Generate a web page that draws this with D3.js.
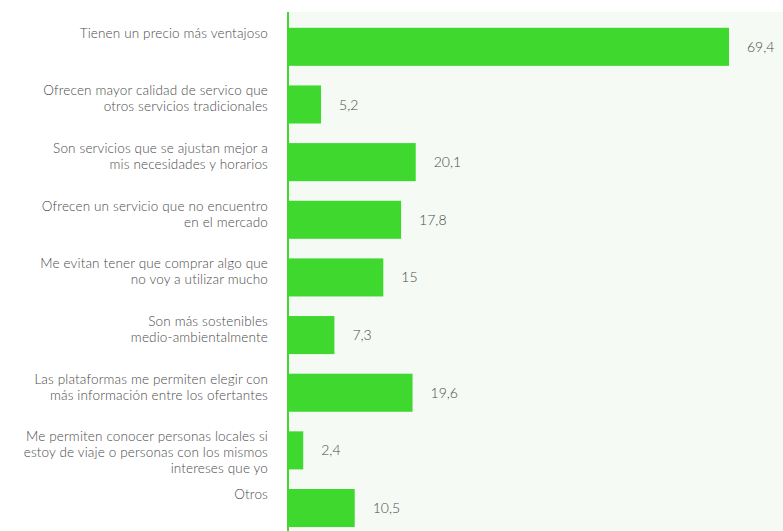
<!DOCTYPE html>
<html>
<head>
<meta charset="utf-8">
<script src="https://cdn.jsdelivr.net/npm/d3@7"></script>
<style>
  html, body { margin: 0; padding: 0; background: #ffffff; }
  svg { display: block; }
  text { font-family: Lato, "Open Sans", sans-serif; font-weight: 300; }
</style>
</head>
<body>
<script>
// ---- Data ----
const categories = [
  ["Tienen un precio más ventajoso"],
  ["Ofrecen mayor calidad de servico que", "otros servicios tradicionales"],
  ["Son servicios que se ajustan mejor a", "mis necesidades y horarios"],
  ["Ofrecen un servicio que no encuentro", "en el mercado"],
  ["Me evitan tener que comprar algo que", "no voy a utilizar mucho"],
  ["Son más sostenibles", "medio-ambientalmente"],
  ["Las plataformas me permiten elegir con", "más información entre los ofertantes"],
  ["Me permiten conocer personas locales si", "estoy de viaje o personas con los mismos", "intereses que yo"],
  ["Otros"]
];
const values = [69.4, 5.2, 20.1, 17.8, 15, 7.3, 19.6, 2.4, 10.5];
const valueLabels = ["69,4", "5,2", "20,1", "17,8", "15", "7,3", "19,6", "2,4", "10,5"];

// ---- Layout ----
const W = 783, H = 531;
const plotLeft = 288, plotTop = 12;
const green = "#3ed82f";

const svg = d3.select("body").append("svg").attr("width", W).attr("height", H);

const idx = d3.range(values.length);
const step = 57.65;
const y = d3.scaleBand()
  .domain(idx)
  .range([27.8 - 0.17 * step, 27.8 - 0.17 * step + step * values.length])
  .paddingInner(0.34)
  .paddingOuter(0.17);

const x = d3.scaleLinear().domain([0, 69.4]).range([plotLeft, 729]);

// plot background
svg.append("rect")
  .attr("x", plotLeft).attr("y", plotTop)
  .attr("width", W - plotLeft).attr("height", H - plotTop)
  .attr("fill", "#f5faf4");

// bars
svg.selectAll("rect.bar").data(idx).enter().append("rect")
  .attr("class", "bar")
  .attr("x", x(0))
  .attr("y", i => y(i))
  .attr("width", i => x(values[i]) - x(0))
  .attr("height", y.bandwidth())
  .attr("fill", green);

// value labels
svg.selectAll("text.val").data(idx).enter().append("text")
  .attr("class", "val")
  .attr("x", i => x(values[i]) + 18)
  .attr("y", i => y(i) + y.bandwidth() / 2)
  .attr("dy", "0.36em")
  .attr("font-size", 14)
  .attr("fill", "#4a4a4a")
  .text(i => valueLabels[i]);

// category labels
const lab = svg.selectAll("text.cat").data(idx).enter().append("text")
  .attr("class", "cat")
  .attr("text-anchor", "end")
  .attr("font-size", 13.5)
  .attr("letter-spacing", 0.15)
  .attr("fill", "#4a4a4a");
lab.each(function(i) {
  const t = d3.select(this);
  categories[i].forEach((line, k) => {
    t.append("tspan")
      .attr("x", 268)
      .attr("y", y(i) + 10 + k * 16)
      .text(line);
  });
});

// axis line
svg.append("line")
  .attr("x1", plotLeft).attr("x2", plotLeft)
  .attr("y1", plotTop).attr("y2", H)
  .attr("stroke", green).attr("stroke-width", 2);
</script>
</body>
</html>
